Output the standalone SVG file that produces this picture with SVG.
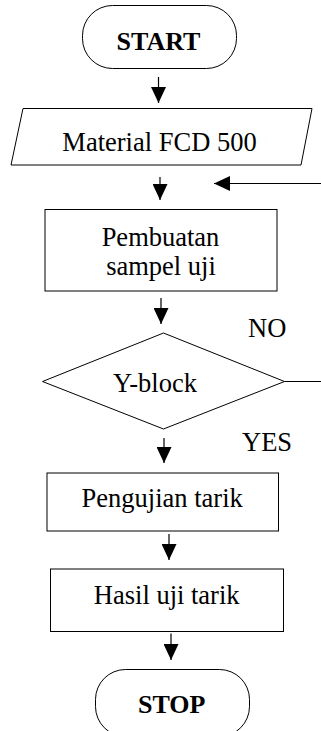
<svg xmlns="http://www.w3.org/2000/svg" width="321" height="731" viewBox="0 0 321 731">
  <style>
    .shape { fill: #fff; stroke: #000; stroke-width: 1; }
    .link { fill: none; stroke: #000; stroke-width: 1.2; marker-end: url(#head); }
    .plain { fill: none; stroke: #000; stroke-width: 1.2; }
    .label { font-size: 26.5px; fill: #000; text-anchor: middle; }
    .term { font-weight: bold; font-size: 26px; }
    .tag { text-anchor: start; }
  </style>
  <defs>
    <marker id="head" viewBox="0 0 16 15" refX="16" refY="7.5" markerWidth="16" markerHeight="15" markerUnits="userSpaceOnUse" orient="auto">
      <path d="M0,0 L16,7.5 L0,15 Z" fill="#000"/>
    </marker>
  </defs>
  <rect width="321" height="731" fill="#fff"/>

  <g id="connectors">
    <line class="link" x1="158.5" y1="77" x2="158.5" y2="103"/>
    <line class="link" x1="160" y1="177" x2="160" y2="200"/>
    <line class="link" x1="321" y1="183.5" x2="214" y2="183.5"/>
    <line class="link" x1="161" y1="298" x2="161" y2="324"/>
    <line class="plain" x1="284.5" y1="381.5" x2="321" y2="381.5"/>
    <line class="link" x1="164" y1="438" x2="164" y2="463"/>
    <line class="link" x1="169" y1="534" x2="169" y2="560"/>
    <line class="link" x1="171" y1="633.5" x2="171" y2="660"/>
  </g>

  <g font-family="'Liberation Serif', 'DejaVu Serif', 'Times New Roman', serif">
    <g id="start">
      <rect class="shape" x="82.5" y="5.5" width="154" height="63" rx="30" ry="30"/>
      <text class="label term" x="158.5" y="50">START</text>
    </g>

    <g id="material">
      <polygon class="shape" points="23,108.5 312,108.5 301,165 11,165"/>
      <text class="label" x="159.5" y="150.5">Material FCD 500</text>
    </g>

    <g id="pembuatan">
      <rect class="shape" x="45" y="209.5" width="232" height="81.5"/>
      <text class="label" x="160.5" y="245.5">Pembuatan</text>
      <text class="label" x="161" y="275">sampel uji</text>
    </g>

    <g id="yblock">
      <polygon class="shape" points="163.5,333 284.5,381.5 163.5,429 42.5,381.5"/>
      <text class="label" x="155" y="391.5">Y-block</text>
      <text class="label tag" x="248" y="336.5">NO</text>
      <text class="label tag" x="242" y="450.5">YES</text>
    </g>

    <g id="pengujian">
      <rect class="shape" x="47" y="473" width="231.5" height="58"/>
      <text class="label" x="162.2" y="506.5">Pengujian tarik</text>
    </g>

    <g id="hasil">
      <rect class="shape" x="50.5" y="569" width="233" height="62.5"/>
      <text class="label" x="166.7" y="604">Hasil uji tarik</text>
    </g>

    <g id="stop">
      <rect class="shape" x="95.5" y="669.5" width="154" height="67" rx="30" ry="30"/>
      <text class="label term" x="171.7" y="713">STOP</text>
    </g>
  </g>
</svg>
